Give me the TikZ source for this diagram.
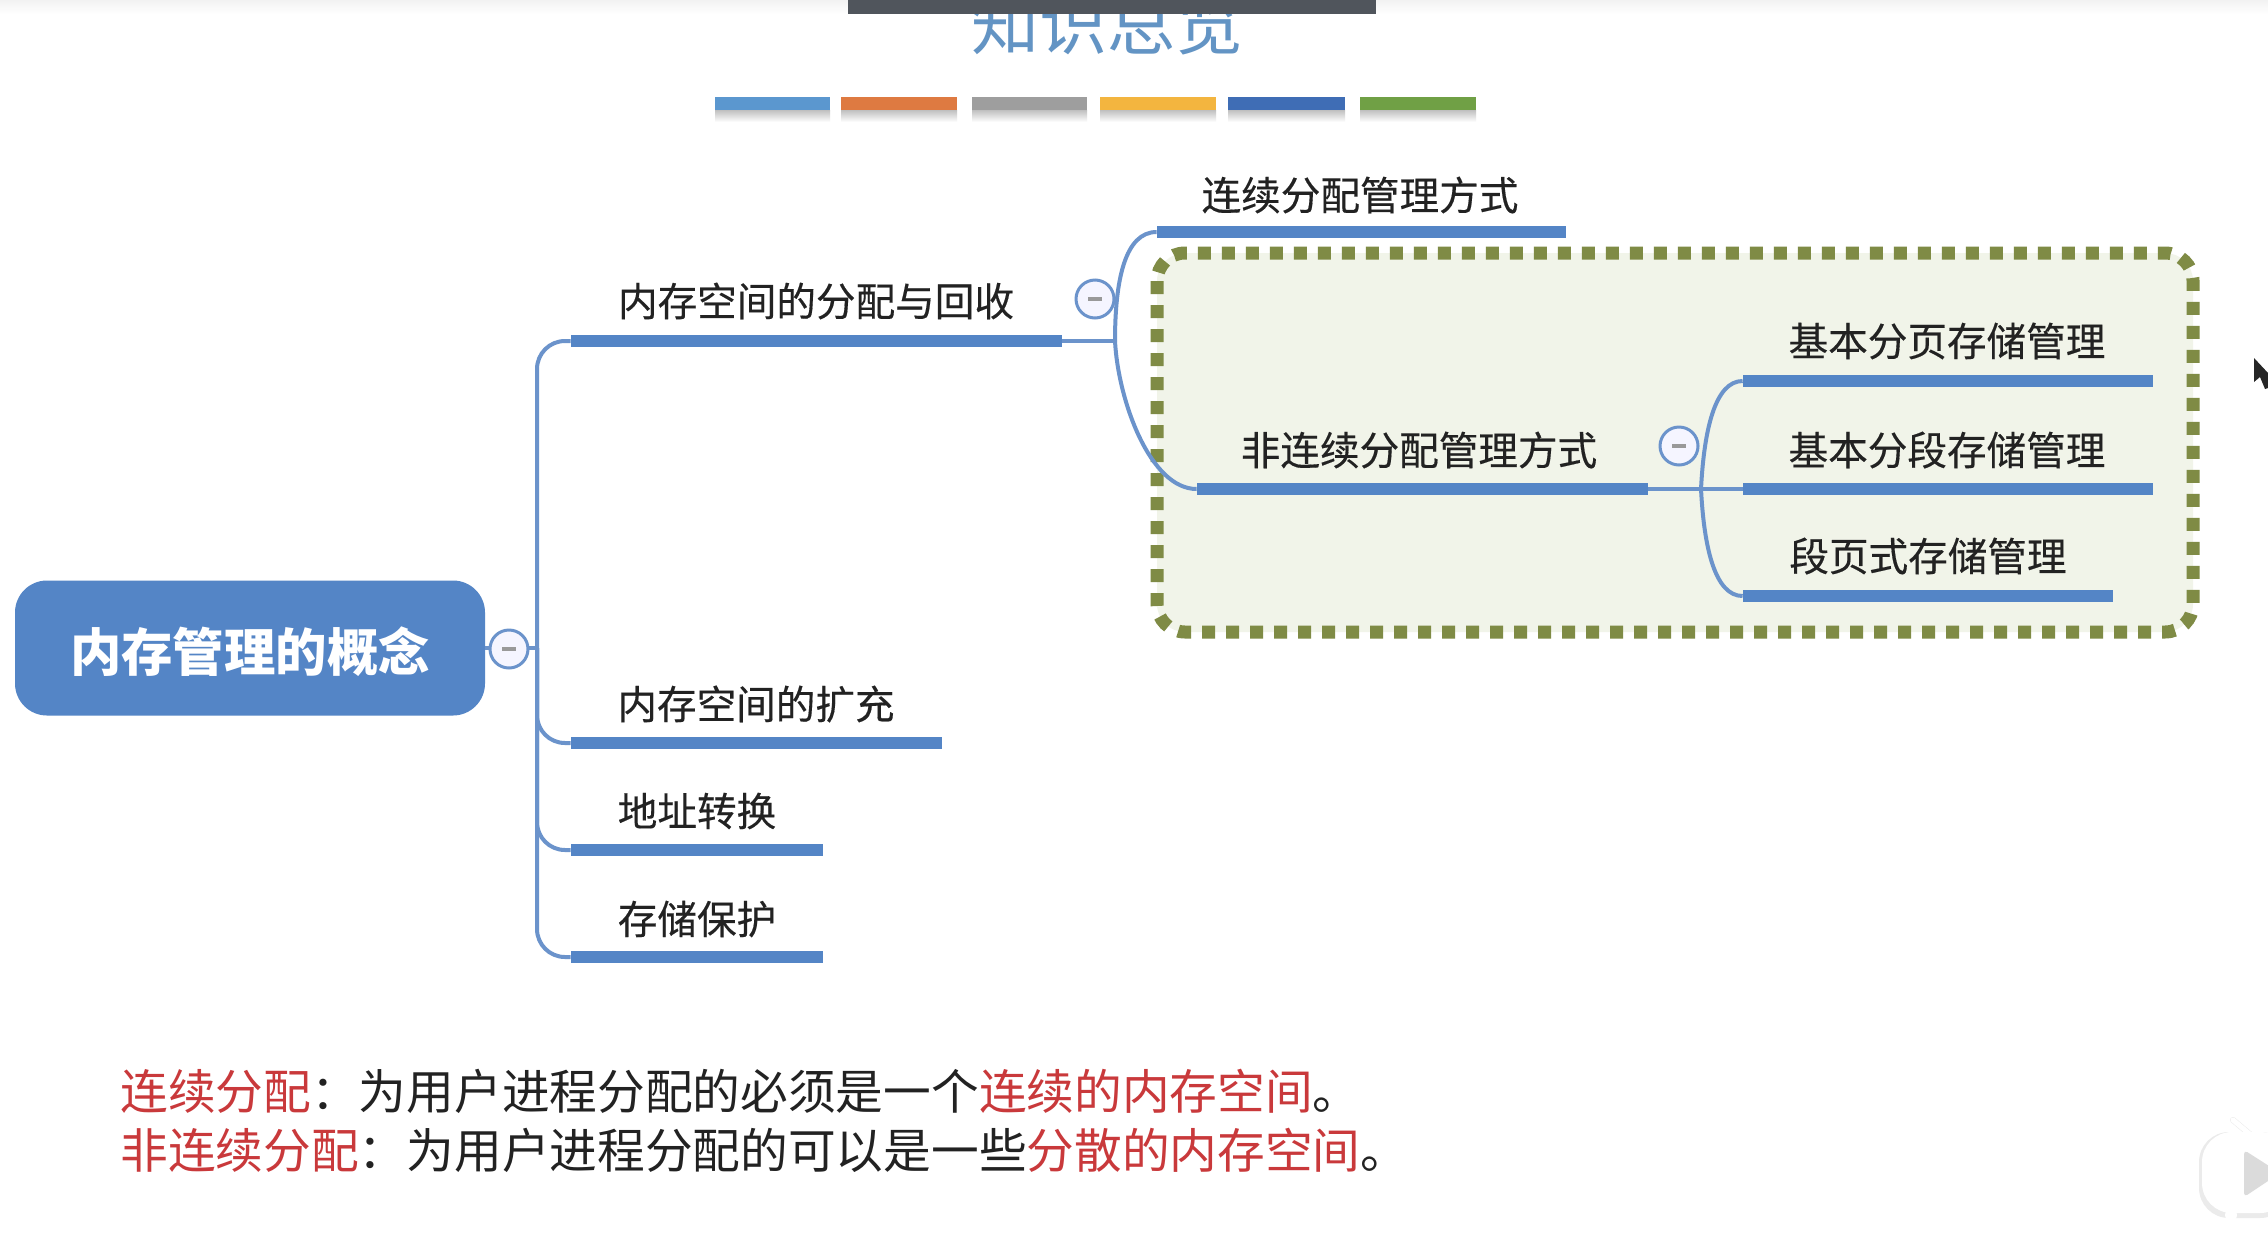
\documentclass[tikz,border=0pt]{standalone}
\usepackage{fontspec}
\setmainfont{Noto Sans CJK SC}
\newfontfamily\cjk{Noto Sans CJK SC}
\newfontfamily\cjkm[FakeBold=0.35]{Noto Sans CJK SC}
\usetikzlibrary{calc}
\definecolor{mmblue}{HTML}{5485C6}
\definecolor{mmline}{HTML}{6B93CB}
\definecolor{mmolive}{HTML}{7F8B45}
\definecolor{mmpale}{HTML}{F1F4E9}
\definecolor{mmred}{HTML}{C9393B}
\definecolor{mmtitle}{HTML}{6394C4}
\definecolor{mmtext}{HTML}{222222}
\definecolor{mmdark}{HTML}{50555C}
\definecolor{mmsa}{HTML}{5B97CF}
\definecolor{mmsb}{HTML}{DE7A41}
\definecolor{mmsc}{HTML}{9E9E9E}
\definecolor{mmsd}{HTML}{F3B53F}
\definecolor{mmse}{HTML}{3F6DB5}
\definecolor{mmsf}{HTML}{70A045}
\tikzset{
  x=0.5pt,y=-0.5pt,
  barline/.style={fill=mmblue,draw=none,inner sep=0pt,minimum height=6pt},
  topic/.style={inner sep=0pt,text=mmtext,font=\cjkm\fontsize{19.8}{22}\selectfont},
  link/.style={draw=mmline,line width=2pt},
  collapse/.style={circle,draw=mmline,fill=white!96!blue,line width=1.5pt,minimum size=19pt,inner sep=0pt},
  minus/.style={draw=gray!80,line width=1.6pt},
  swatch/.style={draw=none,inner sep=0pt,minimum height=6.5pt},
  note/.style={inner sep=0pt,anchor=west,text=mmtext,font=\cjk\fontsize{23.85}{26}\selectfont},
}
\newcommand{\mmbar}[4]{\node[barline,minimum width={(#3-#2)*0.5pt}] (#1) at ({(#2+#3)/2},#4) {};}
\newcommand{\mmswatch}[4]{%
  \shade[top color=gray!50,bottom color=white,draw=none] (#2,110) rectangle (#3,122);
  \node[swatch,fill=#4,minimum width={(#3-#2)*0.5pt}] (#1) at ({(#2+#3)/2},103.5) {};}
\newcommand{\mmminus}[1]{\draw[minus] ($(#1)+(-7,0)$) -- ($(#1)+(7,0)$);}
\newcommand{\red}[1]{\textcolor{mmred}{#1}}
\begin{document}
\begin{tikzpicture}
\useasboundingbox (0,0) rectangle (2268,1232);
\clip (0,0) rectangle (2268,1232);
\fill[white] (0,0) rectangle (2268,1232);
\shade[top color=black!5,bottom color=white,draw=none] (0,0) rectangle (2268,14);

% title
\node[inner sep=0pt,text=mmtitle,font=\cjk\fontsize{34}{36}\selectfont] (title) at (1107,24) {知识总览};
\fill[mmdark] (848,0) rectangle (1376,14);
\mmswatch{s1}{715}{830}{mmsa}
\mmswatch{s2}{841}{957}{mmsb}
\mmswatch{s3}{972}{1087}{mmsc}
\mmswatch{s4}{1100}{1216}{mmsd}
\mmswatch{s5}{1228}{1345}{mmse}
\mmswatch{s6}{1360}{1476}{mmsf}

% dashed group
\draw[draw=mmolive,fill=mmpale,line width=6.5pt,dash pattern=on 6.5pt off 5.5pt,rounded corners=14pt]
  (1157,253) rectangle (2193,632);

% root
\node[fill=mmblue,draw=none,rounded corners=16pt,minimum width=235pt,minimum height=67.5pt,inner sep=0pt,
  text height=26pt,text depth=3pt,
  text=white,font=\cjk\bfseries\fontsize{25.7}{28}\selectfont] (root) at (250,648) {内存管理的概念};

% bars
\mmbar{a}{571}{1062}{341}
\mmbar{b}{571}{942}{743}
\mmbar{c}{571}{823}{850}
\mmbar{d}{571}{823}{957}
\mmbar{a1}{1157}{1566}{232}
\mmbar{a2}{1197}{1648}{489}
\mmbar{r1}{1743}{2153}{381}
\mmbar{r2}{1743}{2153}{489}
\mmbar{r3}{1743}{2113}{596}

% labels
\node[topic] (ta) at (816,301) {内存空间的分配与回收};
\node[topic] (tb) at (756,704) {内存空间的扩充};
\node[topic] (tc) at (697,811) {地址转换};
\node[topic] (td) at (697,919) {存储保护};
\node[topic] (ta1) at (1360,195) {连续分配管理方式};
\node[topic] (ta2) at (1419,450) {非连续分配管理方式};
\node[topic] (tr1) at (1947,341) {基本分页存储管理};
\node[topic] (tr2) at (1947,450) {基本分段存储管理};
\node[topic] (tr3) at (1928,556) {段页式存储管理};

% hubs
\coordinate (hub0) at (537,648);
\coordinate (hub1) at (1115,341);
\coordinate (hub2) at (1701,489);

% connectors
\draw[link] (root.east) -- (hub0);
\draw[link,rounded corners=14pt] (a.west) -| (hub0);
\draw[link,rounded corners=14pt] (d.west) -| (hub0);
\draw[link,rounded corners=14pt] (b.west) -| (hub0);
\draw[link,rounded corners=14pt] (c.west) -| (hub0);
\draw[link] (a.east) -- (hub1);
\draw[link] (hub1) .. controls (1115,280) and (1125,232) .. (a1.west);
\draw[link] (hub1) .. controls (1118,400) and (1150,489) .. (a2.west);
\draw[link] (a2.east) -- (hub2);
\draw[link] (hub2) -- (r2.west);
\draw[link] (hub2) .. controls (1704,430) and (1715,381) .. (r1.west);
\draw[link] (hub2) .. controls (1704,548) and (1715,596) .. (r3.west);

% collapse buttons
\node[collapse] (k0) at (509,649) {}; \mmminus{k0}
\node[collapse] (k1) at (1095,299) {}; \mmminus{k1}
\node[collapse] (k2) at (1679,446) {}; \mmminus{k2}

% notes
\node[note] (n1) at (120,1091) {\red{连续分配}：为用户进程分配的必须是一个\red{连续的内存空间}。};
\node[note] (n2) at (120,1150) {\red{非连续分配}：为用户进程分配的可以是一些\red{分散的内存空间}。};

% cursor
\fill[black!85] (2254,358) -- (2254,382) -- (2260,377) -- (2265,389) -- (2268,388) -- (2268,373) -- cycle;

% player badge
\draw[black!8,line width=3pt,line cap=round] (2233,1120) -- (2252,1136);
\fill[black!8,rounded corners=15pt] (2199,1132) rectangle (2290,1218);
\fill[white,rounded corners=15pt] (2202,1132) rectangle (2290,1213);
\draw[white,line width=2.5pt,line cap=round] (2233,1120) -- (2252,1136);
\fill[white] (2231,1215) circle (6);
\fill[black!14,rounded corners=2pt] (2244,1150) -- (2280,1173) -- (2244,1197) -- cycle;
\end{tikzpicture}
\end{document}
